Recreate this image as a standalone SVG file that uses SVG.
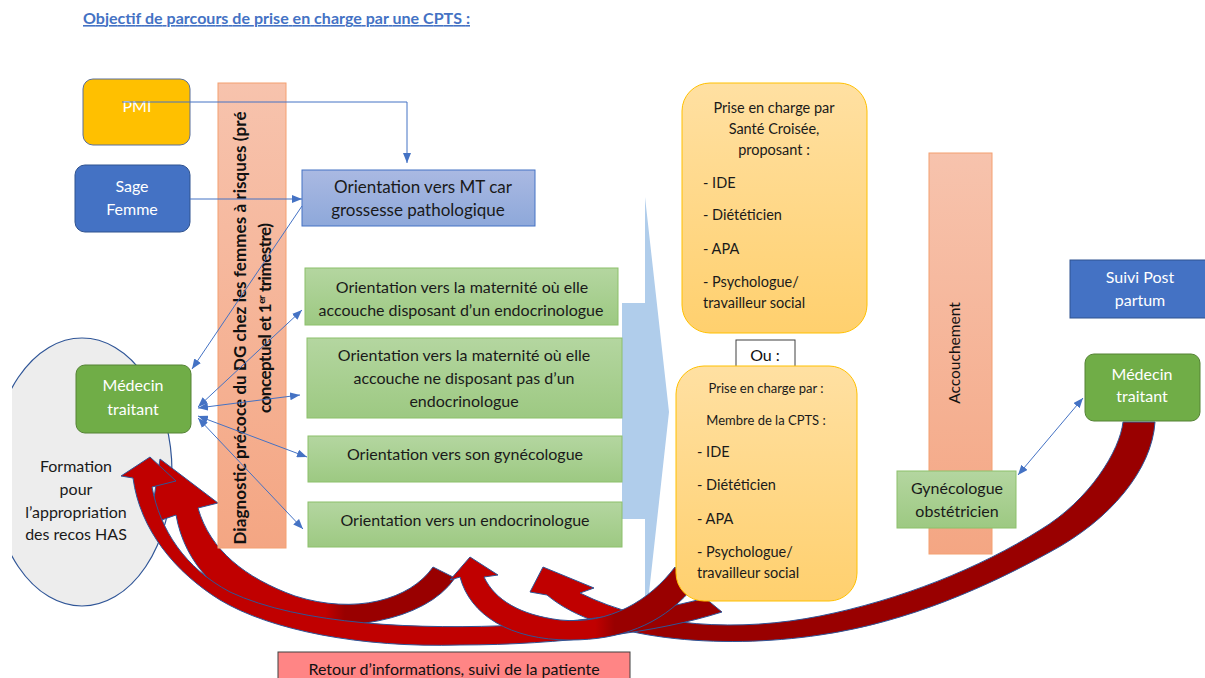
<svg xmlns="http://www.w3.org/2000/svg" width="1205" height="678" viewBox="0 0 1205 678">
<style>
text{font-family:Lato,"Liberation Sans",sans-serif;}
.t{font-size:16px;fill:#1a1a1a;text-anchor:middle;}
.w{font-size:16px;fill:#ffffff;text-anchor:middle;}
.o{font-size:14.5px;fill:#1a1a1a;}
.os{font-size:13px;fill:#1a1a1a;}
.gb{fill:url(#gGreen);stroke:#8cc06b;stroke-width:1;}
.ob{fill:url(#gOrange);stroke:#ffc000;stroke-width:1;}
.bar{fill:url(#gBar);stroke:#f4a070;stroke-width:1;}
.cn{fill:none;stroke:#4472c4;stroke-width:1;}
.red{stroke:#2f5597;stroke-width:1;}
</style>
<defs>
<linearGradient id="gGreen" x1="0" y1="0" x2="0" y2="1"><stop offset="0" stop-color="#b4d6a0"/><stop offset="1" stop-color="#9dc982"/></linearGradient>
<linearGradient id="gBlue" x1="0" y1="0" x2="0" y2="1"><stop offset="0" stop-color="#aab9e2"/><stop offset="1" stop-color="#8ea8da"/></linearGradient>
<linearGradient id="gOrange" x1="0" y1="0" x2="0" y2="1"><stop offset="0" stop-color="#ffe0a2"/><stop offset="1" stop-color="#ffd06e"/></linearGradient>
<linearGradient id="gBar" x1="0" y1="0" x2="0" y2="1"><stop offset="0" stop-color="#f7c3ad"/><stop offset="1" stop-color="#f4a683"/></linearGradient>
<linearGradient id="gA1" gradientUnits="userSpaceOnUse" x1="120" y1="0" x2="725" y2="0"><stop offset="0" stop-color="#c00000"/><stop offset="0.7" stop-color="#c00000"/><stop offset="0.76" stop-color="#990000"/><stop offset="1" stop-color="#990000"/></linearGradient>
<linearGradient id="gA2" gradientUnits="userSpaceOnUse" x1="140" y1="0" x2="460" y2="0"><stop offset="0" stop-color="#c00000"/><stop offset="0.58" stop-color="#c00000"/><stop offset="0.64" stop-color="#990000"/><stop offset="1" stop-color="#990000"/></linearGradient>
<linearGradient id="gA3" gradientUnits="userSpaceOnUse" x1="450" y1="0" x2="692" y2="0"><stop offset="0" stop-color="#c00000"/><stop offset="0.6" stop-color="#c00000"/><stop offset="0.68" stop-color="#990000"/><stop offset="1" stop-color="#990000"/></linearGradient>
<linearGradient id="gA4" gradientUnits="userSpaceOnUse" x1="530" y1="0" x2="1170" y2="0"><stop offset="0" stop-color="#c00000"/><stop offset="0.12" stop-color="#c00000"/><stop offset="0.2" stop-color="#990000"/><stop offset="1" stop-color="#990000"/></linearGradient>
<clipPath id="clipL"><rect x="12" y="0" width="400" height="678"/></clipPath>
<marker id="ah" viewBox="0 0 10 8" refX="10" refY="4" markerWidth="10" markerHeight="8" markerUnits="userSpaceOnUse" orient="auto-start-reverse"><path d="M0,0 L10,4 L0,8 z" fill="#4472c4"/></marker>
</defs>

<!-- title -->
<text x="83" y="24" textLength="387" style="font-size:16px;font-weight:bold;fill:#4472c4;text-decoration:underline;">Objectif de parcours de prise en charge par une CPTS :</text>

<!-- left ellipse -->
<g id="formation">
<ellipse cx="82" cy="472" rx="90" ry="134" fill="#ededed" stroke="#2f5597" stroke-width="1.2" clip-path="url(#clipL)"/>
<text class="t" x="76" y="472">Formation</text>
<text class="t" x="76" y="495">pour</text>
<text class="t" x="76" y="518">l’appropriation</text>
<text class="t" x="76" y="540">des recos HAS</text>
</g>

<!-- big light blue arrow -->
<g id="fleche-bleue">
<polygon points="622,303 645,303 645,197 669,412 645,629 645,519 622,519" fill="#b0cdeb"/>
</g>

<!-- red curved arrows -->
<g id="retours">
<path id="a4" class="red" fill="url(#gA4)" d="M547,595 L530,592 L543,567 L594,588 L580,593 C650,628 740,632 820,616 C900,600 980,568 1040,530 C1090,500 1120,450 1123,422 L1155,422 C1152,470 1110,520 1050,552 C990,585 910,622 820,635 C720,650 600,640 547,595 Z"/>
<path id="a2" class="red" fill="url(#gA2)" d="M176,515 L150,524 L160,459 L218,503 L198,508 C210,550 245,578 295,596 C355,615 410,600 433,567 L455,578 C425,622 340,635 275,618 C220,600 185,565 176,515 Z"/>
<path id="a1" class="red" fill="url(#gA1)" d="M133,478 L121,476 L150,457 L176,481 L152,487 C160,530 185,568 230,592 C300,625 420,630 520,625 C600,620 670,608 705,598 L722,612 C660,632 560,645 460,645 C360,648 270,630 220,600 C175,572 140,530 133,478 Z"/>
<path id="a3" class="red" fill="url(#gA3)" d="M460,577 L450,580 L470,557 L498,575 L484,577 C495,600 520,615 560,620 C610,625 650,600 675,567 L690,591 C660,625 620,640 570,640 C510,640 470,615 460,577 Z"/>
</g>

<!-- Diagnostic bar -->
<g id="diagnostic">
<rect class="bar" x="218" y="83" width="68" height="465"/>
<text transform="translate(246,328) rotate(-90)" textLength="433" style="font-size:17px;font-weight:bold;fill:#111;text-anchor:middle;">Diagnostic précoce du DG chez les femmes à risques (pré</text>
<text transform="translate(271,318) rotate(-90)" textLength="190" style="font-size:17px;font-weight:bold;fill:#111;text-anchor:middle;">conceptuel et 1<tspan style="font-size:10px" dy="-6">er</tspan><tspan dy="6"> trimestre)</tspan></text>
</g>

<g id="pmi">
<rect x="83" y="79" width="107" height="66" rx="10" fill="#ffc000" stroke="#5a6f9a" stroke-width="1"/>
<text class="w" x="137" y="112">PMI</text>
</g>

<g id="sage-femme">
<rect x="75" y="165" width="115" height="67" rx="10" fill="#4472c4" stroke="#2f528f" stroke-width="1"/>
<text class="w" x="132" y="192">Sage</text>
<text class="w" x="132" y="215">Femme</text>
</g>

<g id="medecin-traitant-1">
<rect x="76" y="365" width="115" height="68" rx="9" fill="#70ad47" stroke="#548235" stroke-width="1"/>
<text class="w" x="133" y="391">Médecin</text>
<text class="w" x="133" y="415">traitant</text>
</g>

<g id="orientation-mt">
<rect x="302" y="170" width="233" height="56" fill="url(#gBlue)" stroke="#4472c4" stroke-width="1"/>
<text class="t" x="423" y="193" style="font-size:17px">Orientation vers MT car</text>
<text class="t" x="418" y="216" style="font-size:17px">grossesse pathologique</text>
</g>

<g id="orientation-maternite-endo">
<rect class="gb" x="305" y="268" width="313" height="57"/>
<text class="t" x="462" y="293">Orientation vers la maternité où elle</text>
<text class="t" x="461" y="316">accouche disposant d’un endocrinologue</text>
</g>

<g id="orientation-maternite-sans-endo">
<rect class="gb" x="307" y="338" width="315" height="80"/>
<text class="t" x="464" y="361">Orientation vers la maternité où elle</text>
<text class="t" x="464" y="384">accouche ne disposant pas d’un</text>
<text class="t" x="464" y="407">endocrinologue</text>
</g>

<g id="orientation-gyneco">
<rect class="gb" x="308" y="436" width="314" height="46"/>
<text class="t" x="465" y="460">Orientation vers son gynécologue</text>
</g>

<g id="orientation-endo">
<rect class="gb" x="308" y="502" width="314" height="45"/>
<text class="t" x="465" y="526">Orientation vers un endocrinologue</text>
</g>

<g id="sante-croisee">
<rect class="ob" x="682" y="83" width="185" height="250" rx="28"/>
<text class="o" x="774" y="113" text-anchor="middle">Prise en charge par</text>
<text class="o" x="774" y="134" text-anchor="middle">Santé Croisée,</text>
<text class="o" x="774" y="155" text-anchor="middle">proposant :</text>
<text class="o" x="703" y="188">- IDE</text>
<text class="o" x="703" y="220">- Diététicien</text>
<text class="o" x="703" y="254">- APA</text>
<text class="o" x="703" y="287">- Psychologue/</text>
<text class="o" x="703" y="308">travailleur social</text>
</g>

<g id="ou">
<rect x="736" y="340" width="59" height="32" fill="#ffffff" stroke="#404040" stroke-width="1"/>
<text x="765" y="361" style="font-size:16px;fill:#111;text-anchor:middle;">Ou :</text>
</g>

<g id="membre-cpts">
<rect class="ob" x="676" y="366" width="181" height="235" rx="28"/>
<text class="os" x="766" y="393" text-anchor="middle">Prise en charge par :</text>
<text class="os" x="766" y="425" text-anchor="middle">Membre de la CPTS :</text>
<text class="o" x="697" y="457">- IDE</text>
<text class="o" x="697" y="490">- Diététicien</text>
<text class="o" x="697" y="524">- APA</text>
<text class="o" x="697" y="557">- Psychologue/</text>
<text class="o" x="697" y="578">travailleur social</text>
</g>

<g id="accouchement">
<rect class="bar" x="929" y="153" width="63" height="401"/>
<text transform="translate(960,353) rotate(-90)" style="font-size:15.5px;fill:#111;text-anchor:middle;">Accouchement</text>
</g>

<g id="suivi-post-partum">
<rect x="1070" y="260" width="137" height="58" fill="#4472c4" stroke="#2f528f" stroke-width="1"/>
<text class="w" x="1140" y="283">Suivi Post</text>
<text class="w" x="1140" y="306">partum</text>
</g>

<g id="medecin-traitant-2">
<rect x="1085" y="354" width="115" height="67" rx="9" fill="#70ad47" stroke="#548235" stroke-width="1"/>
<text class="w" x="1142" y="380">Médecin</text>
<text class="w" x="1142" y="402">traitant</text>
</g>

<g id="gyneco-obstetricien">
<rect class="gb" x="897" y="471" width="119" height="57"/>
<text class="t" x="957" y="494">Gynécologue</text>
<text class="t" x="957" y="517">obstétricien</text>
</g>

<g id="retour">
<rect x="278" y="652" width="352" height="30" fill="#ff8585" stroke="#404040" stroke-width="1"/>
<text x="454" y="675" style="font-size:16px;fill:#111;text-anchor:middle;">Retour d’informations, suivi de la patiente</text>
</g>

<!-- connectors -->
<g id="connecteurs">
<polyline class="cn" points="122,102 407,102 407,163" marker-end="url(#ah)"/>
<line class="cn" x1="190" y1="199" x2="302" y2="199" marker-end="url(#ah)"/>
<line class="cn" x1="302" y1="206" x2="192" y2="369" marker-end="url(#ah)"/>
<line class="cn" x1="198" y1="407" x2="302" y2="310" marker-start="url(#ah)" marker-end="url(#ah)"/>
<line class="cn" x1="198" y1="408" x2="300" y2="395" marker-start="url(#ah)" marker-end="url(#ah)"/>
<line class="cn" x1="198" y1="416" x2="307" y2="457" marker-start="url(#ah)" marker-end="url(#ah)"/>
<line class="cn" x1="198" y1="418" x2="303" y2="529" marker-start="url(#ah)" marker-end="url(#ah)"/>
<line class="cn" x1="1018" y1="475" x2="1083" y2="398" marker-start="url(#ah)" marker-end="url(#ah)"/>
</g>
</svg>
